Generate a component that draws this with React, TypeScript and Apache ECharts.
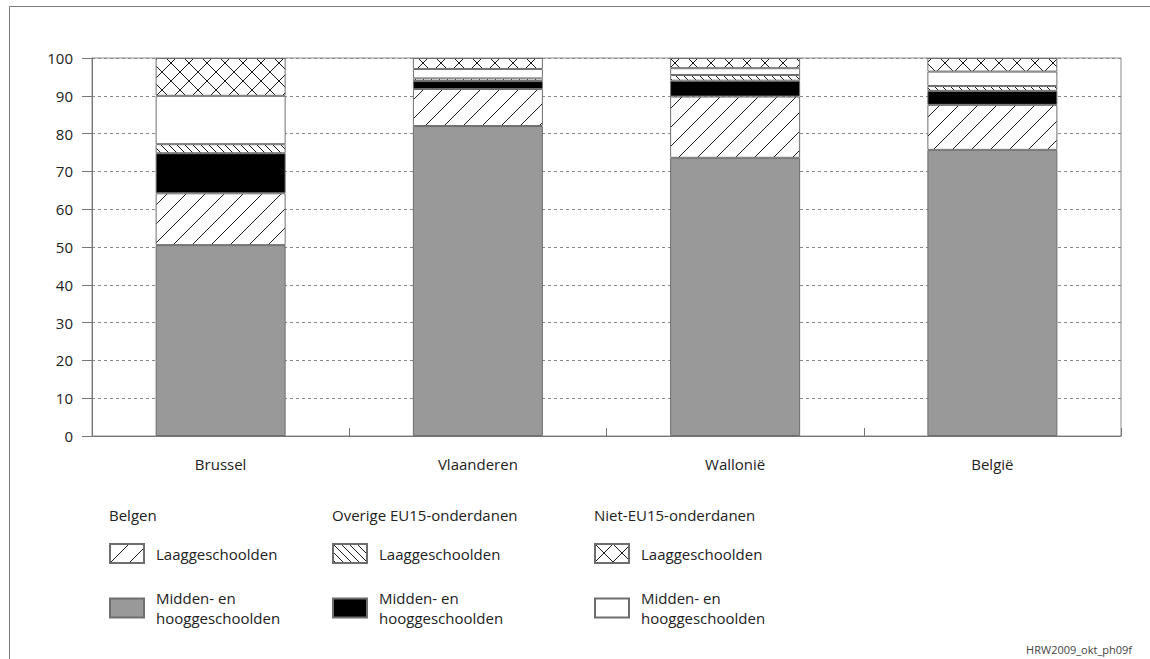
import React, { useEffect, useRef } from "react";
import * as echarts from "echarts";

const categories = ["Brussel", "Vlaanderen", "Wallonië", "België"];
const belgenMidden = [50.5, 82.0, 73.6, 75.7];
const belgenLaag = [13.7, 9.8, 16.2, 11.9];
const eu15Midden = [10.6, 2.1, 4.2, 3.7];
const eu15Laag = [2.4, 0.7, 1.5, 1.3];
const nietEuMidden = [12.8, 2.5, 1.8, 3.8];
const nietEuLaag = [10.0, 2.9, 2.7, 3.6];
const yTicks = [0, 10, 20, 30, 40, 50, 60, 70, 80, 90, 100];
const groupHeaders = ["Belgen", "Overige EU15-onderdanen", "Niet-EU15-onderdanen"];
const footer = "HRW2009_okt_ph09f";

const FONT = "Open Sans";
const FS = 15;

function makePattern(size: number, kind: "slash" | "back" | "cross") {
  const c = document.createElement("canvas");
  c.width = size;
  c.height = size;
  const ctx = c.getContext("2d")!;
  ctx.fillStyle = "#ffffff";
  ctx.fillRect(0, 0, size, size);
  ctx.strokeStyle = "#1a1a1a";
  ctx.lineWidth = 1;
  ctx.beginPath();
  for (const k of [-1, 0, 1]) {
    if (kind === "slash" || kind === "cross") {
      ctx.moveTo(k * size, size);
      ctx.lineTo(k * size + size, 0);
    }
    if (kind === "back" || kind === "cross") {
      ctx.moveTo(k * size, 0);
      ctx.lineTo(k * size + size, size);
    }
  }
  ctx.stroke();
  return { image: c, repeat: "repeat", imageWidth: size, imageHeight: size } as any;
}

export default function App() {
  const ref = useRef<HTMLDivElement>(null);
  useEffect(() => {
    const chart = echarts.init(ref.current!, null, { renderer: "svg" });
    const slash = makePattern(19, "slash");
    const back = makePattern(8, "back");
    const cross = makePattern(18, "cross");

    const seriesDefs = [
      { name: "Belgen|Midden", label: "Midden- en\nhooggeschoolden", data: belgenMidden, color: "#999999" as any },
      { name: "Belgen|Laag", label: "Laaggeschoolden", data: belgenLaag, color: slash },
      { name: "EU15|Midden", label: "Midden- en\nhooggeschoolden", data: eu15Midden, color: "#000000" as any },
      { name: "EU15|Laag", label: "Laaggeschoolden", data: eu15Laag, color: back },
      { name: "NietEU|Midden", label: "Midden- en\nhooggeschoolden", data: nietEuMidden, color: "#ffffff" as any },
      { name: "NietEU|Laag", label: "Laaggeschoolden", data: nietEuLaag, color: cross },
    ];
    const labelMap: Record<string, string> = {};
    seriesDefs.forEach((s) => (labelMap[s.name] = s.label));

    const colX = [109, 332, 594];
    const legendPos: { name: string; left: number; top: number }[] = [
      { name: "Belgen|Laag", left: colX[0], top: 543 },
      { name: "EU15|Laag", left: colX[1], top: 543 },
      { name: "NietEU|Laag", left: colX[2], top: 543 },
      { name: "Belgen|Midden", left: colX[0], top: 588 },
      { name: "EU15|Midden", left: colX[1], top: 588 },
      { name: "NietEU|Midden", left: colX[2], top: 588 },
    ];

    chart.setOption({
      animation: false,
      textStyle: { fontFamily: FONT },
      grid: {
        left: 92,
        right: 29,
        top: 58,
        bottom: 223,
        show: true,
        borderColor: "#8a8a8a",
        borderWidth: 1,
      },
      xAxis: {
        type: "category",
        data: categories,
        axisLine: { lineStyle: { color: "#777777" } },
        axisTick: { show: true, inside: true, length: 8, lineStyle: { color: "#777777" } },
        axisLabel: { color: "#222222", fontSize: FS, margin: 20, fontFamily: FONT },
        splitLine: { show: false },
      },
      yAxis: {
        type: "value",
        min: yTicks[0],
        max: yTicks[yTicks.length - 1],
        interval: 10,
        axisLine: { show: true, lineStyle: { color: "#777777" } },
        axisTick: { show: true, length: 10, lineStyle: { color: "#777777" } },
        axisLabel: { color: "#222222", fontSize: FS, margin: 19, fontFamily: FONT },
        splitLine: { show: true, lineStyle: { color: "#888888", type: [3, 3], width: 1 } },
      },
      legend: legendPos.map((p) => ({
        data: [p.name],
        left: p.left,
        top: p.top,
        orient: "vertical",
        padding: 0,
        itemWidth: 34,
        itemHeight: 19,
        icon: "rect",
        selectedMode: false,
        formatter: (n: string) => labelMap[n],
        textStyle: {
          fontFamily: FONT,
          fontSize: FS,
          color: "#222222",
          lineHeight: 20,
          padding: [0, 0, 0, 7],
        },
      })),
      graphic: [
        {
          type: "rect",
          silent: true,
          shape: { x: 9.5, y: 6.5, width: 1400, height: 900 },
          style: { fill: "none", stroke: "#7a7a7a", lineWidth: 1 },
        },
        ...groupHeaders.map((h, i) => ({
          type: "text",
          left: colX[i],
          top: 507,
          style: { text: h, fontFamily: FONT, fontSize: FS, fill: "#222222" },
        })),
        {
          type: "text",
          right: 18,
          top: 644,
          style: { text: footer, fontFamily: FONT, fontSize: 11, fill: "#444444" },
        },
      ],
      series: seriesDefs.map((s) => ({
        name: s.name,
        type: "bar",
        stack: "total",
        data: s.data,
        barWidth: 130,
        itemStyle: { color: s.color, borderColor: "#6e6e6e", borderWidth: 1 },
        emphasis: { disabled: true },
      })),
    });
    return () => chart.dispose();
  }, []);
  return (
    <div
      ref={ref}
      style={{ position: "fixed", left: 0, top: 0, width: 1150, height: 659, background: "#ffffff" }}
    />
  );
}
